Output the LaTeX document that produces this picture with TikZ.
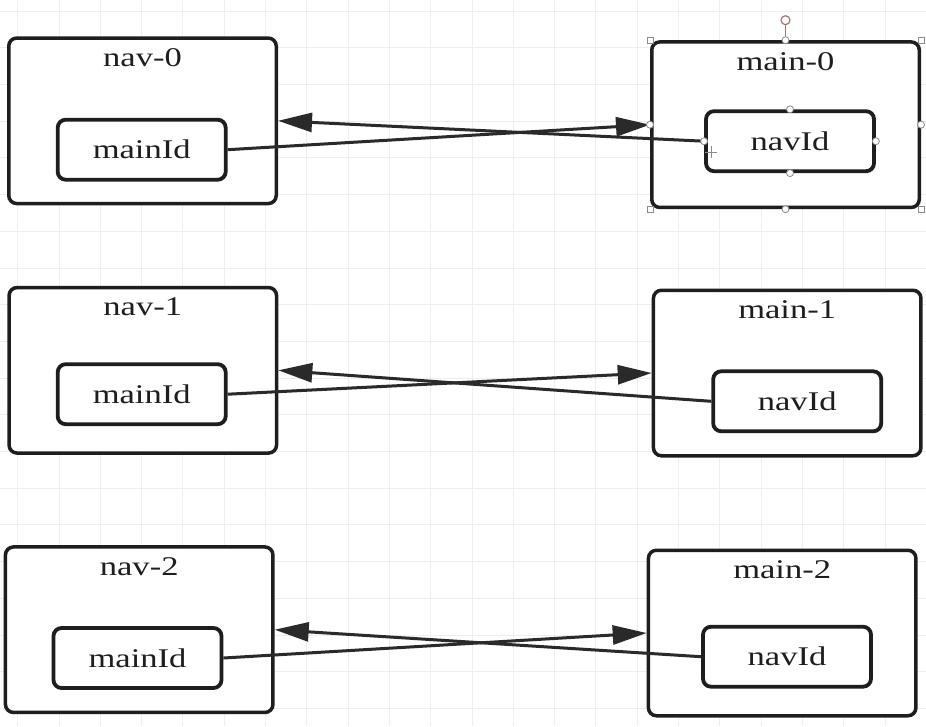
\documentclass[tikz,border=0pt]{standalone}
\usepackage{fontspec}
\setmainfont{Liberation Serif}[FakeStretch=1.28]
\usetikzlibrary{arrows.meta,calc}
\definecolor{gridc}{HTML}{EEEEEE}
\definecolor{ink}{HTML}{1E1E1E}
\definecolor{arrowc}{HTML}{2A2A2A}
\definecolor{handlec}{HTML}{8A8A8A}
\definecolor{rotc}{HTML}{A07878}
\tikzset{
  outerbox/.style={draw=ink, fill=white, line width=3.5pt, rounded corners=8pt,
    minimum width=267.5pt, minimum height=165.5pt, inner sep=0pt},
  innerbox/.style={draw=ink, fill=white, line width=3.8pt, rounded corners=8pt,
    minimum width=168pt, minimum height=60pt, inner sep=0pt,
    font=\fontsize{27pt}{30pt}\selectfont, text=ink},
  titletext/.style={anchor=base, inner sep=0pt, font=\fontsize{27pt}{30pt}\selectfont, text=ink},
  conn/.style={draw=arrowc, line width=3pt, -{Triangle[length=34pt,width=19pt]}},
  sqhandle/.style={draw=handlec, fill=white, line width=0.8pt, minimum size=6pt, inner sep=0pt},
  cirhandle/.style={draw=handlec, fill=white, line width=0.8pt, circle, minimum size=7pt, inner sep=0pt},
}
\begin{document}
\begin{tikzpicture}[x=1pt,y=-1pt]
\useasboundingbox (0,0) rectangle (926,726);
\fill[white] (0,0) rectangle (926,726);
% grid
\foreach \k in {0,...,21} {
  \draw[gridc, line width=1pt] ({17.7+41.3*\k},0) -- ({17.7+41.3*\k},726);
}
\foreach \k in {0,...,19} {
  \draw[gridc, line width=1pt] (0,{11.1+36.7*\k}) -- (926,{11.1+36.7*\k});
}
% row 0
\node[outerbox] (nav0) at (142.5,120.8) {};
\node[titletext] (tnav0) at ([yshift=-30pt]nav0.north) {nav-0};
\node[innerbox] (mid0) at (141.7,149.7) {mainId};
\node[outerbox] (main0) at (785.5,124.7) {};
\node[titletext] (tmain0) at ([yshift=-30pt]main0.north) {main-0};
\node[innerbox] (nid0) at (790,141.2) {navId};
% row 1
\node[outerbox] (nav1) at (142.8,370.3) {};
\node[titletext] (tnav1) at ([yshift=-30pt]nav1.north) {nav-1};
\node[innerbox] (mid1) at (141.7,394.2) {mainId};
\node[outerbox] (main1) at (787.2,373) {};
\node[titletext] (tmain1) at ([yshift=-30pt]main1.north) {main-1};
\node[innerbox] (nid1) at (797.2,401.3) {navId};
% row 2
\node[outerbox] (nav2) at (139.2,629.7) {};
\node[titletext] (tnav2) at ([yshift=-30pt]nav2.north) {nav-2};
\node[innerbox] (mid2) at (137.5,658) {mainId};
\node[outerbox] (main2) at (782.2,633) {};
\node[titletext] (tmain2) at ([yshift=-30pt]main2.north) {main-2};
\node[innerbox] (nid2) at (787,656.7) {navId};
% connectors
\draw[conn] (mid0.east) -- (main0.west);
\draw[conn] (nid0.west) -- (nav0.east);
\draw[conn] (mid1.east) -- (main1.west);
\draw[conn] (nid1.west) -- (nav1.east);
\draw[conn] (mid2.east) -- (main2.west);
\draw[conn] (nid2.west) -- (nav2.east);
% selection handles on main-0
\coordinate (rot) at ([yshift=20pt]main0.north);
\draw[rotc, line width=1.2pt] (main0.north) -- ([yshift=-4.5pt]rot);
\node[draw=rotc, fill=white, circle, line width=1.2pt, minimum size=9pt, inner sep=0pt] (roth) at (rot) {};
\foreach \a in {north west, north east, south west, south east} {
  \node[sqhandle] at (main0.\a) {};
}
\foreach \a in {north, south, east, west} {
  \node[cirhandle] at (main0.\a) {};
  \node[cirhandle] at (nid0.\a) {};
}
% cursor
\coordinate (cur) at (711,152);
\draw[handlec, line width=0.9pt] ([xshift=-6pt]cur) -- ([xshift=6pt]cur);
\draw[handlec, line width=0.9pt] ([yshift=-6pt]cur) -- ([yshift=6pt]cur);
\end{tikzpicture}
\end{document}
